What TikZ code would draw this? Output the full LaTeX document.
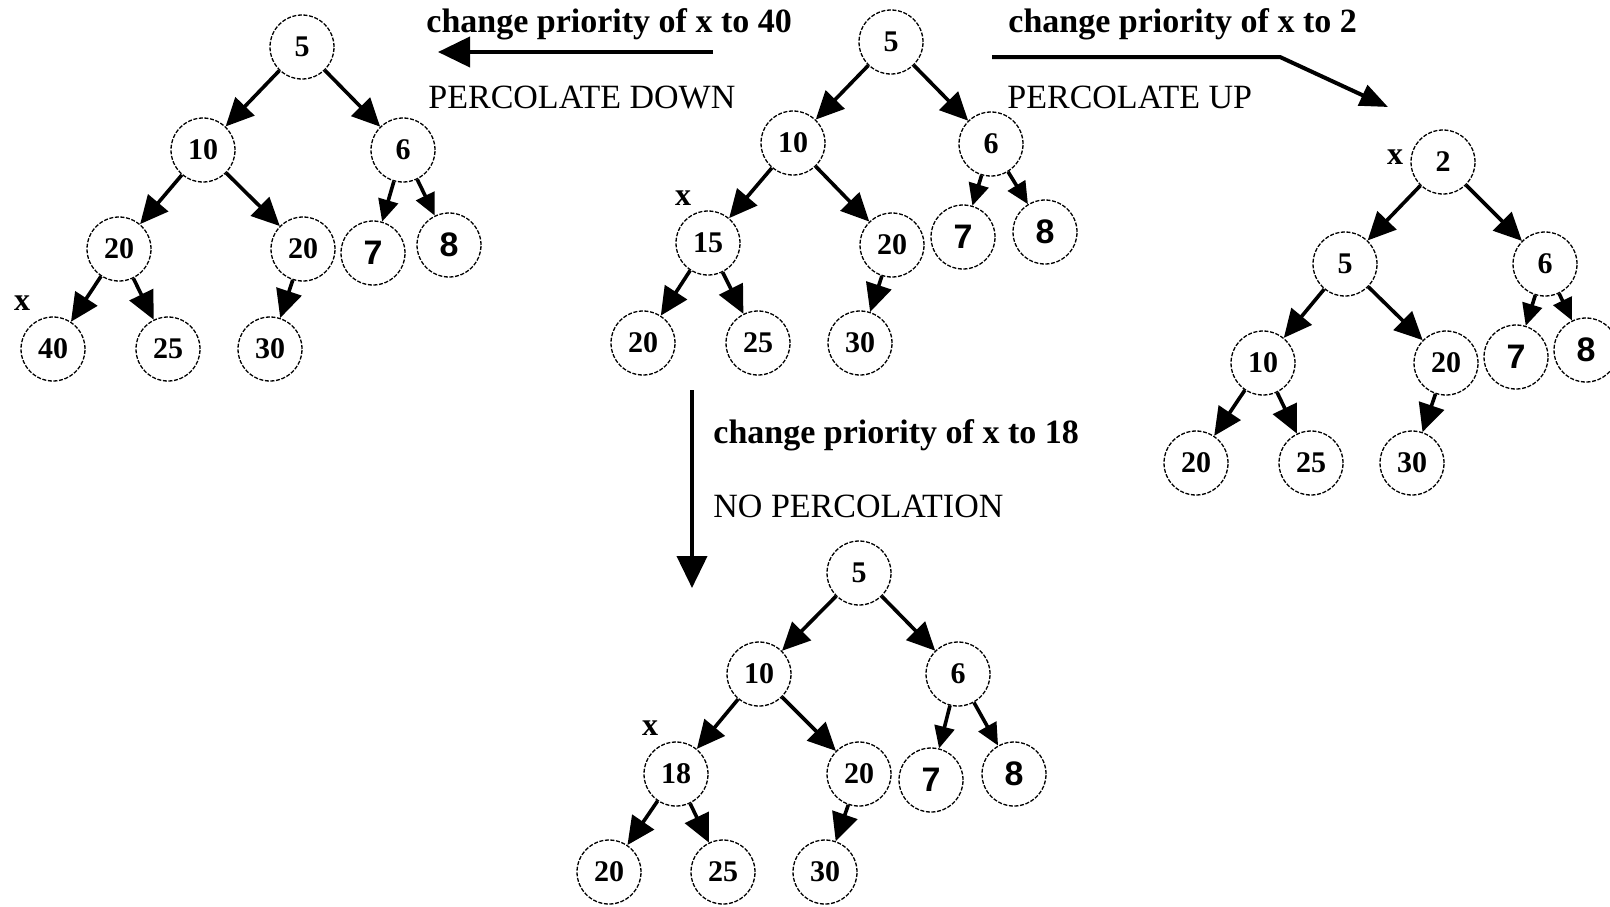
\documentclass[tikz,border=0pt]{standalone}
\usepackage{fontspec}
\setmainfont{Liberation Serif}
\newfontfamily\digitsans{Liberation Sans}
\usetikzlibrary{arrows.meta}

\begin{document}
\begin{tikzpicture}[x=0.5pt,y=-0.5pt,
  hnode/.style={circle, draw, line width=0.65pt, dash pattern=on 2pt off 0.8pt,
    minimum size=32pt, inner sep=0pt, font=\bfseries\fontsize{15pt}{15pt}\selectfont},
  bignum/.style={hnode, font=\digitsans\bfseries\fontsize{17pt}{17pt}\selectfont},
  link/.style={line width=1.8pt, -{Triangle[length=14pt,width=13pt]}},
  shortlink/.style={line width=1.8pt, -{Triangle[length=11pt,width=10pt]}},
  bigarrow/.style={line width=2pt, -{Triangle[length=16pt,width=15pt]}},
  bentarrow/.style={line width=2pt, line join=round, -{Triangle[length=14pt,width=11pt]}},
  xlab/.style={inner sep=0pt, font=\bfseries\fontsize{16pt}{16pt}\selectfont},
  captext/.style={anchor=base west, inner sep=0pt, font=\bfseries\fontsize{17pt}{17pt}\selectfont},
  modetext/.style={anchor=base west, inner sep=0pt, font=\fontsize{17pt}{17pt}\selectfont}]

\fill[white] (0,0) rectangle (1610,906);
\useasboundingbox (0,0) rectangle (1610,906);

% ---- heap after percolating down (left) ----
\node[hnode]  (L5)   at (302,47)  {5};
\node[hnode]  (L10)  at (203,150) {10};
\node[hnode]  (L6)   at (403,150) {6};
\node[hnode]  (L20a) at (119,249) {20};
\node[hnode]  (L20b) at (303,249) {20};
\node[bignum] (L7)   at (373,253) {7};
\node[bignum] (L8)   at (449,245) {8};
\node[hnode]  (L40)  at (53,349)  {40};
\node[hnode]  (L25)  at (168,349) {25};
\node[hnode]  (L30)  at (270,349) {30};
\node[xlab]   (Lx)   at (22,303)  {x};
\draw[link] (L5) -- (L10);
\draw[link] (L5) -- (L6);
\draw[link] (L10) -- (L20a);
\draw[link] (L10) -- (L20b);
\draw[shortlink] (L6) -- (L7);
\draw[shortlink] (L6) -- (L8);
\draw[link] (L20a) -- (L40);
\draw[link] (L20a) -- (L25);
\draw[link] (L20b) -- (L30);

% ---- original heap (centre) ----
\node[hnode]  (C5)   at (891,42)  {5};
\node[hnode]  (C10)  at (793,143) {10};
\node[hnode]  (C6)   at (991,144) {6};
\node[hnode]  (C15)  at (708,243) {15};
\node[hnode]  (C20)  at (892,245) {20};
\node[bignum] (C7)   at (963,237) {7};
\node[bignum] (C8)   at (1045,232) {8};
\node[hnode]  (C20b) at (643,343) {20};
\node[hnode]  (C25)  at (758,343) {25};
\node[hnode]  (C30)  at (860,343) {30};
\node[xlab]   (Cx)   at (683,198) {x};
\draw[link] (C5) -- (C10);
\draw[link] (C5) -- (C6);
\draw[link] (C10) -- (C15);
\draw[link] (C10) -- (C20);
\draw[shortlink] (C6) -- (C7);
\draw[shortlink] (C6) -- (C8);
\draw[link] (C15) -- (C20b);
\draw[link] (C15) -- (C25);
\draw[link] (C20) -- (C30);

% ---- heap after percolating up (right) ----
\node[hnode]  (R2)   at (1443,162) {2};
\node[hnode]  (R5)   at (1345,264) {5};
\node[hnode]  (R6)   at (1545,264) {6};
\node[hnode]  (R10)  at (1263,363) {10};
\node[hnode]  (R20)  at (1446,363) {20};
\node[bignum] (R7)   at (1516,357) {7};
\node[bignum] (R8)   at (1586,350) {8};
\node[hnode]  (R20b) at (1196,463) {20};
\node[hnode]  (R25)  at (1311,463) {25};
\node[hnode]  (R30)  at (1412,463) {30};
\node[xlab]   (Rx)   at (1395,157) {x};
\draw[link] (R2) -- (R5);
\draw[link] (R2) -- (R6);
\draw[link] (R5) -- (R10);
\draw[link] (R5) -- (R20);
\draw[shortlink] (R6) -- (R7);
\draw[shortlink] (R6) -- (R8);
\draw[link] (R10) -- (R20b);
\draw[link] (R10) -- (R25);
\draw[link] (R20) -- (R30);

% ---- heap with no percolation (bottom) ----
\node[hnode]  (B5)   at (859,573) {5};
\node[hnode]  (B10)  at (759,674) {10};
\node[hnode]  (B6)   at (958,674) {6};
\node[hnode]  (B18)  at (676,774) {18};
\node[hnode]  (B20)  at (859,774) {20};
\node[bignum] (B7)   at (931,780) {7};
\node[bignum] (B8)   at (1014,774) {8};
\node[hnode]  (B20b) at (609,872) {20};
\node[hnode]  (B25)  at (723,872) {25};
\node[hnode]  (B30)  at (825,872) {30};
\node[xlab]   (Bx)   at (650,728) {x};
\draw[link] (B5) -- (B10);
\draw[link] (B5) -- (B6);
\draw[link] (B10) -- (B18);
\draw[link] (B10) -- (B20);
\draw[shortlink] (B6) -- (B7);
\draw[shortlink] (B6) -- (B8);
\draw[link] (B18) -- (B20b);
\draw[link] (B18) -- (B25);
\draw[link] (B20) -- (B30);

% ---- operation arrows and captions ----
\coordinate (downS) at (713,52);
\coordinate (downE) at (438,52);
\draw[bigarrow] (downS) -- (downE);
\node[captext]  (downT) at (426,32)  {change priority of x to 40};
\node[modetext] (downM) at (428,108) {PERCOLATE DOWN};

\coordinate (upS) at (992,57);
\coordinate (upK) at (1280,57);
\coordinate (upE) at (1388,107);
\draw[bentarrow] (upS) -- (upK) -- (upE);
\node[captext]  (upT) at (1008,32)  {change priority of x to 2};
\node[modetext] (upM) at (1007,108) {PERCOLATE UP};

\coordinate (noS) at (692,390);
\coordinate (noE) at (692,588);
\draw[bigarrow] (noS) -- (noE);
\node[captext]  (noT) at (713,443) {change priority of x to 18};
\node[modetext] (noM) at (713,517) {NO PERCOLATION};
\end{tikzpicture}
\end{document}
